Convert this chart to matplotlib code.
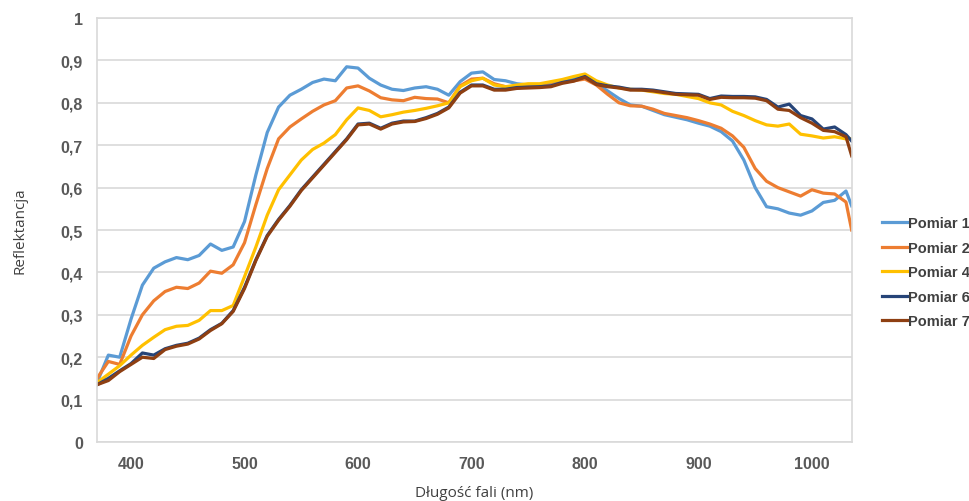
import matplotlib
matplotlib.use("Agg")
import matplotlib.pyplot as plt
from matplotlib.ticker import FuncFormatter

# wavelengths (nm)
wavelengths = [370, 380, 390, 400, 410, 420, 430, 440, 450, 460,
               470, 480, 490, 500, 510, 520, 530, 540, 550, 560,
               570, 580, 590, 600, 610, 620, 630, 640, 650, 660,
               670, 680, 690, 700, 710, 720, 730, 740, 750, 760,
               770, 780, 790, 800, 810, 820, 830, 840, 850, 860,
               870, 880, 890, 900, 910, 920, 930, 940, 950, 960,
               970, 980, 990, 1000, 1010, 1020, 1030, 1035]

pomiar_1 = [0.14, 0.205, 0.20, 0.29, 0.37, 0.41, 0.425, 0.435, 0.43, 0.44,
            0.467, 0.452, 0.46, 0.52, 0.63, 0.73, 0.79, 0.818, 0.832, 0.848,
            0.856, 0.852, 0.885, 0.882, 0.858, 0.842, 0.832, 0.829, 0.835, 0.838,
            0.832, 0.818, 0.85, 0.87, 0.873, 0.855, 0.852, 0.845, 0.842, 0.842,
            0.845, 0.852, 0.86, 0.862, 0.845, 0.828, 0.81, 0.795, 0.792, 0.782,
            0.772, 0.766, 0.76, 0.752, 0.745, 0.732, 0.71, 0.665, 0.60, 0.555,
            0.55, 0.54, 0.535, 0.545, 0.565, 0.57, 0.592, 0.557]

pomiar_2 = [0.15, 0.19, 0.183, 0.25, 0.30, 0.333, 0.355, 0.365, 0.362, 0.375,
            0.403, 0.398, 0.418, 0.47, 0.56, 0.645, 0.715, 0.743, 0.762, 0.78,
            0.795, 0.805, 0.835, 0.84, 0.828, 0.812, 0.807, 0.805, 0.813, 0.81,
            0.809, 0.80, 0.84, 0.856, 0.858, 0.845, 0.838, 0.835, 0.838, 0.838,
            0.842, 0.848, 0.852, 0.856, 0.842, 0.82, 0.80, 0.793, 0.792, 0.785,
            0.775, 0.77, 0.765, 0.758, 0.75, 0.74, 0.722, 0.695, 0.645, 0.615,
            0.60, 0.59, 0.58, 0.595, 0.587, 0.585, 0.566, 0.50]

pomiar_4 = [0.14, 0.16, 0.18, 0.205, 0.228, 0.247, 0.265, 0.273, 0.275, 0.287,
            0.31, 0.31, 0.322, 0.39, 0.46, 0.535, 0.595, 0.63, 0.665, 0.69,
            0.705, 0.725, 0.76, 0.788, 0.782, 0.767, 0.772, 0.778, 0.782, 0.787,
            0.793, 0.80, 0.838, 0.852, 0.858, 0.842, 0.838, 0.842, 0.845, 0.845,
            0.85, 0.855, 0.862, 0.868, 0.852, 0.842, 0.835, 0.832, 0.83, 0.826,
            0.822, 0.82, 0.815, 0.81, 0.80, 0.795, 0.78, 0.77, 0.758, 0.748,
            0.745, 0.75, 0.726, 0.722, 0.717, 0.72, 0.715, 0.715]

pomiar_6 = [0.135, 0.15, 0.168, 0.185, 0.21, 0.205, 0.22, 0.228, 0.233, 0.245,
            0.265, 0.28, 0.31, 0.365, 0.43, 0.487, 0.525, 0.558, 0.595, 0.625,
            0.655, 0.685, 0.715, 0.75, 0.752, 0.74, 0.752, 0.757, 0.757, 0.765,
            0.775, 0.79, 0.825, 0.842, 0.842, 0.832, 0.832, 0.836, 0.837, 0.838,
            0.84, 0.848, 0.853, 0.862, 0.845, 0.84, 0.837, 0.832, 0.832, 0.83,
            0.826, 0.822, 0.821, 0.82, 0.81, 0.816, 0.815, 0.815, 0.814, 0.808,
            0.79, 0.797, 0.77, 0.762, 0.738, 0.743, 0.725, 0.71]

pomiar_7 = [0.135, 0.145, 0.166, 0.183, 0.20, 0.197, 0.218, 0.226, 0.231, 0.243,
            0.263, 0.279, 0.308, 0.362, 0.428, 0.485, 0.523, 0.556, 0.593, 0.623,
            0.653, 0.683, 0.713, 0.748, 0.75, 0.738, 0.75, 0.755, 0.756, 0.763,
            0.773, 0.788, 0.823, 0.84, 0.84, 0.83, 0.83, 0.834, 0.835, 0.836,
            0.838, 0.846, 0.851, 0.86, 0.843, 0.838, 0.835, 0.83, 0.83, 0.828,
            0.824, 0.82, 0.819, 0.818, 0.808, 0.813, 0.812, 0.812, 0.811, 0.805,
            0.785, 0.782, 0.765, 0.752, 0.735, 0.732, 0.72, 0.675]

series = [("Pomiar 1", pomiar_1, "#5B9BD5"),
          ("Pomiar 2", pomiar_2, "#ED7D31"),
          ("Pomiar 4", pomiar_4, "#FFC000"),
          ("Pomiar 6", pomiar_6, "#264478"),
          ("Pomiar 7", pomiar_7, "#8E3F12")]

fig = plt.figure(figsize=(9.70, 5.02), dpi=100)
ax = fig.add_axes([0.100, 0.1175, 0.778, 0.8446])

for name, vals, col in series:
    ax.plot(wavelengths, vals, color=col, lw=2.3, label=name, solid_joinstyle="round")

ax.set_xlim(370, 1035)
ax.set_ylim(0, 1)
ax.set_xticks([400, 500, 600, 700, 800, 900, 1000])
ax.set_yticks([i / 10 for i in range(11)])
ax.yaxis.set_major_formatter(FuncFormatter(lambda v, p: ("%g" % round(v, 1)).replace(".", ",")))

ax.grid(axis="y", color="#D9D9D9", lw=1.2)
ax.set_axisbelow(True)
for s in ax.spines.values():
    s.set_color("#D9D9D9")
    s.set_linewidth(1.2)
ax.tick_params(length=0, pad=10, labelcolor="#595959")
for lab in ax.get_xticklabels() + ax.get_yticklabels():
    lab.set_fontfamily("Liberation Sans")
    lab.set_fontweight("bold")
    lab.set_fontsize(11.5)

ax.set_xlabel("Długość fali (nm)", fontfamily="Open Sans", fontsize=11, color="#404040", labelpad=10)
ax.set_ylabel("Reflektancja", fontfamily="Open Sans", fontsize=11, color="#404040", labelpad=24)

fig.legend(loc="upper left", bbox_to_anchor=(0.9015, 0.582), frameon=False,
           handlelength=1.75, handletextpad=0.05, labelspacing=0.72, borderpad=0,
           prop={"family": "Liberation Sans", "weight": "bold", "size": 10.5},
           labelcolor="#404040")

fig.savefig("out.png", dpi=100)
